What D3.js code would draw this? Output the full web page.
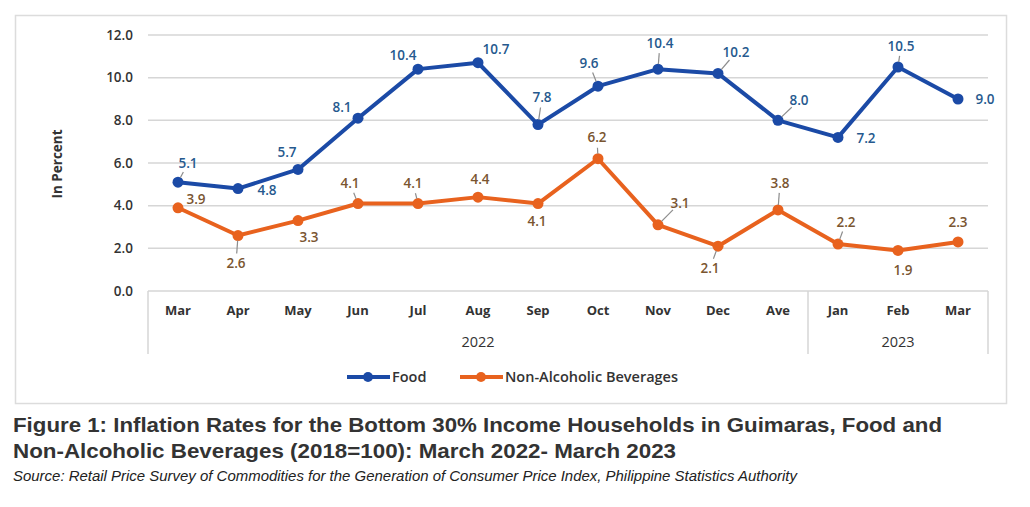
<!DOCTYPE html>
<html><head><meta charset="utf-8">
<script src="https://cdn.jsdelivr.net/npm/d3@7"></script>
<style>
body{margin:0;background:#fff;}
svg{display:block;}
</style></head>
<body>
<svg id="c" width="1030" height="507"></svg>
<script>
const categories = ["Mar","Apr","May","Jun","Jul","Aug","Sep","Oct","Nov","Dec","Ave","Jan","Feb","Mar"];
const years = [{label:"2022", from:0, to:10},{label:"2023", from:11, to:13}];
const food = [5.1,4.8,5.7,8.1,10.4,10.7,7.8,9.6,10.4,10.2,8.0,7.2,10.5,9.0];
const beverages = [3.9,2.6,3.3,4.1,4.1,4.4,4.1,6.2,3.1,2.1,3.8,2.2,1.9,2.3];
const yTicks = [0,2,4,6,8,10,12];
const seriesNames = ["Food","Non-Alcoholic Beverages"];

// label placement (pixel offsets from point) and leader flags
const foodLabelOff = [[10,-19],[29,2],[-11,-17],[-16,-11],[-15,-14],[18,-13],[4,-27],[-9,-23],[2,-26],[18,-21],[21,-20],[28,1],[3,-21],[27,0]];
const foodLeader   = [1,0,0,0,0,0,1,1,1,1,1,0,1,0];
const bevLabelOff  = [[18,-9],[-2,28],[11,17],[-8,-20],[-5,-20],[2,-18],[-1,18],[-1,-21],[22,-22],[-8,22],[2,-27],[8,-22],[5,20],[0,-20]];
const bevLeader    = [0,1,0,1,1,0,0,1,1,1,1,1,0,0];

(function(){
const blue = "#1b4aa6", orange = "#e8621e";
const svg = d3.select("#c");
const FONT = "Open Sans";

// frame
svg.append("rect").attr("x",15.5).attr("y",15.5).attr("width",991).attr("height",388)
  .attr("fill","#fff").attr("stroke","#dcdcdc").attr("stroke-width",1.5);

const pL = 148, pR = 988, pT = 35, pB = 291;
const x = d3.scaleBand().domain(d3.range(categories.length)).range([pL,pR]).padding(0);
const cx = i => x(i) + x.bandwidth()/2;
const y = d3.scaleLinear().domain([0,12]).range([pB,pT]);

// grid
svg.append("g").selectAll("line").data(yTicks).join("line")
  .attr("x1",pL).attr("x2",pR).attr("y1",d=>y(d)).attr("y2",d=>y(d))
  .attr("stroke","#d6d6d6").attr("stroke-width",1.5);

// y axis labels
const yAxis = d3.axisLeft(y).tickValues(yTicks).tickFormat(d3.format(".1f")).tickSize(0).tickPadding(15);
const ga = svg.append("g").attr("transform",`translate(${pL},0)`).call(yAxis);
ga.select(".domain").remove();
ga.selectAll("text").attr("font-family",FONT).attr("font-size",13.5).attr("font-weight",600).attr("fill","#333");

svg.append("text").attr("transform","translate(62,164) rotate(-90)").attr("text-anchor","middle")
  .attr("font-family",FONT).attr("font-size",13.5).attr("font-weight",700).attr("fill","#333").text("In Percent");

// x axis
const xAxis = d3.axisBottom(x).tickFormat(i=>categories[i]).tickSize(0).tickPadding(15);
const gx = svg.append("g").attr("transform",`translate(0,${pB})`).call(xAxis);
gx.select(".domain").remove();
gx.selectAll("text").attr("font-family",FONT).attr("font-size",13).attr("font-weight",700).attr("fill","#333");

// separators
const seps = [pL, x(years[1].from), pR];
svg.append("g").selectAll("line").data(seps).join("line")
  .attr("x1",d=>d).attr("x2",d=>d).attr("y1",pB).attr("y2",354)
  .attr("stroke","#d6d6d6").attr("stroke-width",1.5);

svg.append("g").selectAll("text").data(years).join("text")
  .attr("x",d=>(x(d.from)+x(d.to)+x.bandwidth())/2).attr("y",347).attr("text-anchor","middle")
  .attr("font-family",FONT).attr("font-size",14.5).attr("font-weight",400).attr("fill","#333").text(d=>d.label);

// series
function drawSeries(vals, color, offs, leaders, labColor){
  const line = d3.line().x((d,i)=>cx(i)).y(d=>y(d));
  svg.append("path").datum(vals).attr("d",line).attr("fill","none").attr("stroke",color)
    .attr("stroke-width",4).attr("stroke-linejoin","round");
  svg.append("g").selectAll("circle").data(vals).join("circle")
    .attr("cx",(d,i)=>cx(i)).attr("cy",d=>y(d)).attr("r",5.5).attr("fill",color);
  const g = svg.append("g");
  vals.forEach((v,i)=>{
    const px = cx(i), py = y(v), lx = px+offs[i][0], ly = py+offs[i][1];
    if(leaders[i]){
      const dx = offs[i][0], dy = offs[i][1];
      const len = Math.hypot(dx,dy);
      const sx = px + dx*(5/len), sy = py + dy*(5/len);
      const ex = px + dx*((len-10)/len), ey = py + dy*((len-10)/len);
      g.append("line").attr("x1",sx).attr("y1",sy).attr("x2",ex).attr("y2",ey)
        .attr("stroke","#8c8c8c").attr("stroke-width",1.2);
    }
    g.append("text").attr("x",lx).attr("y",ly).attr("dy","0.35em").attr("text-anchor","middle")
      .attr("font-family",FONT).attr("font-size",13.5).attr("font-weight",600).attr("fill",labColor)
      .text(d3.format(".1f")(v));
  });
}
drawSeries(food, blue, foodLabelOff, foodLeader, "#26598e");
drawSeries(beverages, orange, bevLabelOff, bevLeader, "#7a5530");

// legend
const legend = [{name:seriesNames[0], color:blue, x0:347},{name:seriesNames[1], color:orange, x0:460}];
const lg = svg.append("g");
legend.forEach(l=>{
  lg.append("line").attr("x1",l.x0).attr("x2",l.x0+43).attr("y1",377).attr("y2",377).attr("stroke",l.color).attr("stroke-width",4);
  lg.append("circle").attr("cx",l.x0+21).attr("cy",377).attr("r",5).attr("fill",l.color);
  lg.append("text").attr("x",l.x0+45).attr("y",377).attr("dy","0.35em")
    .attr("font-family",FONT).attr("font-size",14.5).attr("font-weight",600).attr("fill","#333").text(l.name);
});

// caption
svg.append("text").attr("x",13).attr("y",432).attr("font-family","Liberation Sans").attr("font-weight",700)
  .attr("font-size",20.5).attr("fill","#333").attr("textLength",929).attr("lengthAdjust","spacingAndGlyphs")
  .text("Figure 1: Inflation Rates for the Bottom 30% Income Households in Guimaras, Food and");
svg.append("text").attr("x",13).attr("y",458).attr("font-family","Liberation Sans").attr("font-weight",700)
  .attr("font-size",20.5).attr("fill","#333").attr("textLength",663).attr("lengthAdjust","spacingAndGlyphs")
  .text("Non-Alcoholic Beverages (2018=100): March 2022- March 2023");
svg.append("text").attr("x",13).attr("y",481).attr("font-family","Liberation Sans").attr("font-style","italic")
  .attr("font-size",14).attr("fill","#222").attr("textLength",784).attr("lengthAdjust","spacingAndGlyphs")
  .text("Source: Retail Price Survey of Commodities for the Generation of Consumer Price Index, Philippine Statistics Authority");
})();
</script>
</body></html>
